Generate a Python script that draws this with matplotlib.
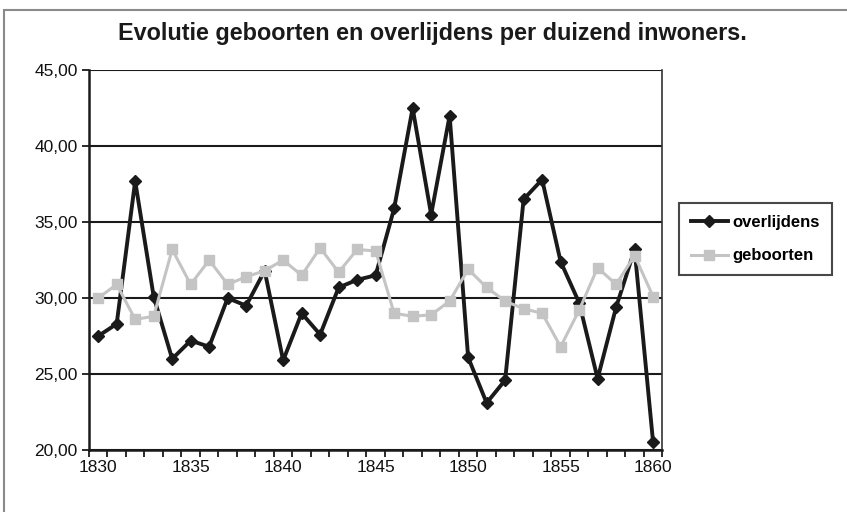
import matplotlib.pyplot as plt
from matplotlib.patches import Rectangle
from matplotlib.ticker import FuncFormatter

years = list(range(1830, 1861))

overlijdens = [27.5, 28.3, 37.7, 30.1, 26.0, 27.2, 26.8, 30.0, 29.5, 31.8,
               25.9, 29.0, 27.6, 30.7, 31.2, 31.5, 35.9, 42.5, 35.5, 42.0,
               26.1, 23.1, 24.6, 36.5, 37.8, 32.4, 29.7, 24.7, 29.4, 33.2,
               20.5]

geboorten = [30.0, 30.9, 28.6, 28.8, 33.2, 30.9, 32.5, 30.9, 31.4, 31.8,
             32.5, 31.5, 33.3, 31.7, 33.2, 33.1, 29.0, 28.8, 28.9, 29.8,
             31.9, 30.7, 29.8, 29.3, 29.0, 26.8, 29.2, 32.0, 30.9, 32.8,
             30.1]

yticks = [20, 25, 30, 35, 40, 45]
xlabels = [1830, 1835, 1840, 1845, 1850, 1855, 1860]

plt.rcParams['font.family'] = ['Liberation Sans', 'DejaVu Sans']

fig = plt.figure(figsize=(8.47, 5.12), dpi=100)
ax = fig.add_axes([0.105, 0.121, 0.677, 0.742])

# outer frame (only top and left edge visible in the image)
fig.patches.append(Rectangle((4 / 847, -0.05), 1.1, 1 - 10 / 512 + 0.05,
                             transform=fig.transFigure, fill=False,
                             edgecolor='#8a8a8a', linewidth=1.5))

ax.plot(years, overlijdens, color='#1a1a1a', lw=2.8, marker='D', ms=6.5,
        label='overlijdens', zorder=3)
ax.plot(years, geboorten, color='#c4c4c4', lw=2.2, marker='s', ms=6.5,
        label='geboorten', zorder=4)

ax.set_xlim(1829.5, 1860.5)
ax.set_ylim(20, 45)

ax.set_yticks(yticks)
ax.yaxis.set_major_formatter(FuncFormatter(lambda v, p: f'{v:.2f}'.replace('.', ',')))
ax.grid(axis='y', color='#1a1a1a', lw=1.5)
ax.set_axisbelow(True)

# tick marks at category boundaries, labels at category centres
ax.set_xticks([y + 0.5 for y in range(1829, 1861)], minor=True)
ax.set_xticks(xlabels)
ax.tick_params(axis='x', which='major', length=0, pad=7, labelsize=12.5, labelcolor='#111111')
ax.tick_params(axis='x', which='minor', length=5, width=1.3, color='#1a1a1a', direction='out')
ax.tick_params(axis='y', length=5, width=1.3, color='#1a1a1a', pad=3, labelsize=12.5,
               labelcolor='#111111')

ax.spines['left'].set_linewidth(1.8)
ax.spines['bottom'].set_linewidth(1.8)
ax.spines['left'].set_color('#1a1a1a')
ax.spines['bottom'].set_color('#1a1a1a')
ax.spines['right'].set_linewidth(1.2)
ax.spines['right'].set_color('#333333')
ax.spines['top'].set_visible(False)

fig.text(0.51, 0.934, 'Evolutie geboorten en overlijdens per duizend inwoners.',
         ha='center', va='center', fontsize=16.8, fontweight='bold', color='#1a1a1a')

leg = ax.legend(loc='center left', bbox_to_anchor=(1.015, 0.555), frameon=True,
                fancybox=False, edgecolor='#1a1a1a', handlelength=2.2,
                handletextpad=0.3, borderpad=0.7, labelspacing=1.1,
                prop={'weight': 'bold', 'size': 12})
leg.get_frame().set_linewidth(1.5)

fig.savefig('out.png', dpi=100)
